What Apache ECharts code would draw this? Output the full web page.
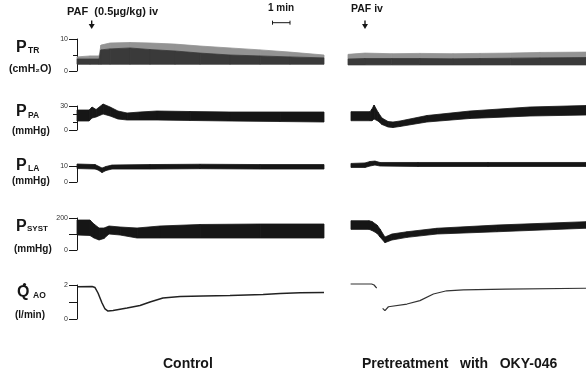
<!DOCTYPE html>
<html>
<head>
<meta charset="utf-8">
<script src="https://cdn.jsdelivr.net/npm/echarts@6.0.0/dist/echarts.min.js"></script>
<style>
html,body{margin:0;padding:0;background:#fff;}
#chart{width:586px;height:376px;}
</style>
</head>
<body>
<div id="chart"></div>
<script>
// ---------- DATA (time in minutes from start of each recording) ----------
// Control panel
const ptrCtrlT   = [0, 0.74, 1.26, 1.37, 1.89, 3.03, 4.17, 5.6, 7.03, 8.74, 10.46, 12.17, 14.11];
const ptrCtrlLow = [2.1, 2.1, 2.1, 2.1, 2.1, 2.1, 2.1, 2.1, 2.1, 2.1, 2.1, 2.1, 2.1];
const ptrCtrlMid = [3.75, 3.75, 3.75, 6.6, 6.9, 7.2, 6.7, 6.25, 5.6, 5.0, 4.7, 4.4, 4.1];
const ptrCtrlTop = [4.4, 4.7, 4.7, 8.1, 8.75, 8.9, 8.75, 8.4, 7.8, 7.2, 6.6, 5.9, 5.0];

const ppaCtrlT  = [0, 0.69, 0.86, 1.09, 1.49, 1.89, 2.34, 2.86, 3.6, 4.57, 6.46, 8.74, 11.6, 14.11];
const ppaCtrlHi = [25, 25, 28.75, 25.6, 32.5, 28.75, 23.75, 21.25, 22.5, 23.75, 23.1, 22.5, 22.5, 22.5];
const ppaCtrlLo = [11.25, 11.25, 15, 16.25, 20, 17.5, 13.75, 12.5, 12.5, 12.5, 11.9, 11.25, 10.6, 10];

const plaCtrlT  = [0, 1.03, 1.2, 1.43, 1.66, 2.0, 4.17, 7.03, 10.46, 14.11];
const plaCtrlHi = [11.25, 10.9, 10, 8.75, 9.7, 10.6, 10.9, 11.1, 10.9, 10.9];
const plaCtrlLo = [8.4, 8.1, 7.5, 5.9, 7.2, 8.1, 8.1, 8.3, 8.1, 8.1];

const psyCtrlT  = [0, 0.74, 0.97, 1.26, 1.54, 1.83, 2.46, 3.43, 4.74, 7.03, 10.46, 14.11];
const psyCtrlHi = [187.5, 187.5, 162.5, 137.5, 137.5, 150, 143.75, 137.5, 150, 159.4, 162.5, 162.5];
const psyCtrlLo = [93.75, 90.6, 75, 62.5, 71.9, 100, 93.75, 75, 75, 75, 75, 75];

const qaoCtrlT = [0, 0.86, 1.03, 1.2, 1.43, 1.6, 1.77, 2.06, 2.86, 3.6, 4.17, 4.91, 5.89, 7.2, 8.74, 10.63, 11.6, 12.74, 14.11];
const qaoCtrlV = [1.9, 1.91, 1.85, 1.53, 0.94, 0.59, 0.47, 0.5, 0.65, 0.79, 1.0, 1.24, 1.32, 1.35, 1.38, 1.44, 1.5, 1.54, 1.56];

// Pretreatment with OKY-046 panel
const ptrOkyT   = [0, 0.97, 2.5, 4.11, 6.0, 7.54, 9.3, 10.97, 13.6];
const ptrOkyLow = [1.9, 1.9, 1.9, 1.9, 1.9, 1.9, 1.9, 1.9, 1.9];
const ptrOkyMid = [3.75, 3.9, 3.9, 3.9, 3.8, 3.9, 4.0, 4.1, 4.2];
const ptrOkyTop = [5.2, 5.6, 5.4, 5.5, 5.4, 5.5, 5.6, 5.8, 5.9];

const ppaOkyT  = [0.17, 1.26, 1.37, 1.49, 1.71, 1.94, 2.29, 2.57, 2.97, 4.51, 6.97, 10.4, 13.6];
const ppaOkyHi = [22.9, 22.9, 26.25, 31.25, 22.5, 15, 10.6, 10, 11.25, 18.1, 23.75, 28.75, 30.6];
const ppaOkyLo = [11.6, 11.6, 11.6, 13.75, 11.25, 6.9, 3.75, 3.1, 4.4, 10, 14.4, 17.5, 18.75];

const plaOkyT  = [0.17, 0.97, 1.26, 1.54, 1.83, 4, 8, 13.6];
const plaOkyHi = [11.6, 11.9, 12.8, 13.1, 12.2, 12.2, 12.2, 12.2];
const plaOkyLo = [9.1, 9.1, 10, 10.6, 10, 9.7, 9.7, 9.7];

const psyOkyT  = [0.17, 1.2, 1.37, 1.66, 1.83, 2.11, 2.51, 3.37, 5.09, 8.51, 13.6];
const psyOkyHi = [183, 183, 178, 156, 131, 81, 100, 114, 136, 156, 177];
const psyOkyLo = [129, 129, 122, 104, 81, 46, 62.5, 79, 100, 114, 136];

const qaoOkyT = [0.15, 1.35, 1.49, 1.64, 1.8, 1.98, 2.11, 2.31, 3.37, 4.11, 4.88, 5.64, 6.59, 9.0, 13.6];
const qaoOkyV = [2.06, 2.06, 2.0, 1.81, null, 0.63, 0.49, 0.72, 0.88, 1.08, 1.47, 1.66, 1.71, 1.76, 1.81];

// Axis ranges and tick labels (P_TR, P_PA, P_LA, P_SYST, Q_AO)
const axisMax      = [10, 30, 10, 200, 2];
const axisInterval = [10, 30, 10, 100, 1];
const yTickLabels  = [['0', '10'], ['0', '30'], ['0', '10'], ['0', '200'], ['0', '2']];
const panelMinutes = [14.11, 13.6];

// ---------- LAYOUT ----------
const rowTop    = [39, 106, 166, 218, 285];
const rowHeight = [32, 24, 16, 32, 34];
const minorSplit = [2, 3, 0, 0, 0];
const FONT = 'Liberation Sans, Arial, Helvetica, sans-serif';
const INK = '#161616';

const chart = echarts.init(document.getElementById('chart'), null, {renderer: 'canvas'});

const grids = [], xAxes = [], yAxes = [];
for (let c = 0; c < 2; c++) {
  for (let r = 0; r < 5; r++) {
    const g = c === 0 ? {left: 77, width: 247} : {left: 348, right: 0};
    grids.push(Object.assign({top: rowTop[r], height: rowHeight[r], outerBoundsMode: 'none', containLabel: false}, g));
    xAxes.push({type: 'value', gridIndex: grids.length - 1, min: 0, max: panelMinutes[c], show: false});
    const left = c === 0;
    yAxes.push({
      type: 'value', gridIndex: grids.length - 1, min: 0, max: axisMax[r], interval: axisInterval[r],
      show: left, offset: 6,
      axisLine: {show: true, lineStyle: {color: INK, width: 1}},
      axisTick: {show: true, length: 8, lineStyle: {color: INK, width: 1}},
      minorTick: {show: minorSplit[r] > 0, splitNumber: minorSplit[r] || 5, length: 4, lineStyle: {color: INK, width: 1}},
      splitLine: {show: false},
      axisLabel: {
        show: true, margin: 3, fontSize: 7, color: '#333', fontFamily: FONT,
        formatter: (v) => yTickLabels[r].indexOf(String(v)) >= 0 ? String(v) : ''
      }
    });
  }
}

const series = [];
// band between a lower and an upper envelope, drawn segment by segment through the axis scales
function band(gi, t, lo, hi, color, z) {
  series.push({
    type: 'custom', xAxisIndex: gi, yAxisIndex: gi, silent: true, clip: false, z: z || 2,
    data: t.map((x, i) => [x, lo[i], hi[i]]),
    encode: {x: 0, y: [1, 2]},
    renderItem: function (params, api) {
      const i = params.dataIndex;
      if (i >= t.length - 1) return null;
      const a = api.coord([t[i], lo[i]]), b = api.coord([t[i], hi[i]]);
      const c = api.coord([t[i + 1], hi[i + 1]]), d = api.coord([t[i + 1], lo[i + 1]]);
      return {type: 'polygon', shape: {points: [a, b, c, d]},
        style: {fill: color, stroke: color, lineWidth: 0.8}};
    }
  });
}
function trace(gi, t, v, width, color) {
  series.push({type: 'line', xAxisIndex: gi, yAxisIndex: gi, clip: false, silent: true, connectNulls: false,
    symbol: 'none', data: t.map((x, i) => [x, v[i]]), lineStyle: {color: color, width: width}});
}

band(0, ptrCtrlT, ptrCtrlMid, ptrCtrlTop, '#939393', 2);
band(0, ptrCtrlT, ptrCtrlLow, ptrCtrlMid, '#3a3a3a', 3);
band(1, ppaCtrlT, ppaCtrlLo, ppaCtrlHi, INK);
band(2, plaCtrlT, plaCtrlLo, plaCtrlHi, INK);
band(3, psyCtrlT, psyCtrlLo, psyCtrlHi, INK);
trace(4, qaoCtrlT, qaoCtrlV, 1.5, '#222');
band(5, ptrOkyT, ptrOkyMid, ptrOkyTop, '#939393', 2);
band(5, ptrOkyT, ptrOkyLow, ptrOkyMid, '#3a3a3a', 3);
band(6, ppaOkyT, ppaOkyLo, ppaOkyHi, INK);
band(7, plaOkyT, plaOkyLo, plaOkyHi, INK);
band(8, psyOkyT, psyOkyLo, psyOkyHi, INK);
trace(9, qaoOkyT, qaoOkyV, 1.2, '#333');

function txt(x, y, text, size, weight) {
  return {type: 'text', x: x, y: y, silent: true,
    style: {text: text, fontSize: size, fontWeight: weight || 'bold', fontFamily: FONT, fill: INK,
      align: 'left', verticalAlign: 'middle'}};
}
function arrow(x) {
  return [
    {type: 'line', silent: true, shape: {x1: x, y1: 20.5, x2: x, y2: 25}, style: {stroke: INK, lineWidth: 1.4}},
    {type: 'polygon', silent: true, shape: {points: [[x - 3, 24], [x + 3, 24], [x, 29]]}, style: {fill: INK}}
  ];
}

const graphic = [
  txt(16, 48, 'P', 16), txt(28, 50.5, 'TR', 8.5), txt(9, 69, '(cmH₂O)', 10.5),
  txt(16, 111.5, 'P', 16), txt(28, 115.5, 'PA', 8.5), txt(12, 131.5, '(mmHg)', 10),
  txt(16, 165.5, 'P', 16), txt(28, 169, 'LA', 8.5), txt(12, 181, '(mmHg)', 10),
  txt(16, 227, 'P', 16), txt(27, 229, 'SYST', 8), txt(14, 249, '(mmHg)', 10),
  txt(17, 292.5, 'Q', 16), txt(33, 296, 'AO', 8.5), txt(15, 315, '(l/min)', 10),
  {type: 'circle', silent: true, shape: {cx: 24.5, cy: 284.5, r: 1.6}, style: {fill: INK}},
  txt(67, 11.5, 'PAF  (0.5µg/kg) iv', 11),
  txt(268, 8.5, '1 min', 10),
  txt(351, 9.5, 'PAF iv', 10.5),
  {type: 'line', silent: true, shape: {x1: 272.5, y1: 22.7, x2: 290, y2: 22.7}, style: {stroke: INK, lineWidth: 1}},
  {type: 'line', silent: true, shape: {x1: 272.5, y1: 20.7, x2: 272.5, y2: 24.7}, style: {stroke: INK, lineWidth: 1}},
  {type: 'line', silent: true, shape: {x1: 290, y1: 20.7, x2: 290, y2: 24.7}, style: {stroke: INK, lineWidth: 1}},
  txt(163, 364, 'Control', 14),
  txt(362, 364, 'Pretreatment   with   OKY-046', 14)
].concat(arrow(91.7), arrow(365));

chart.setOption({
  animation: false,
  backgroundColor: '#ffffff',
  grid: grids, xAxis: xAxes, yAxis: yAxes,
  series: series,
  graphic: graphic
});
</script>
</body>
</html>
